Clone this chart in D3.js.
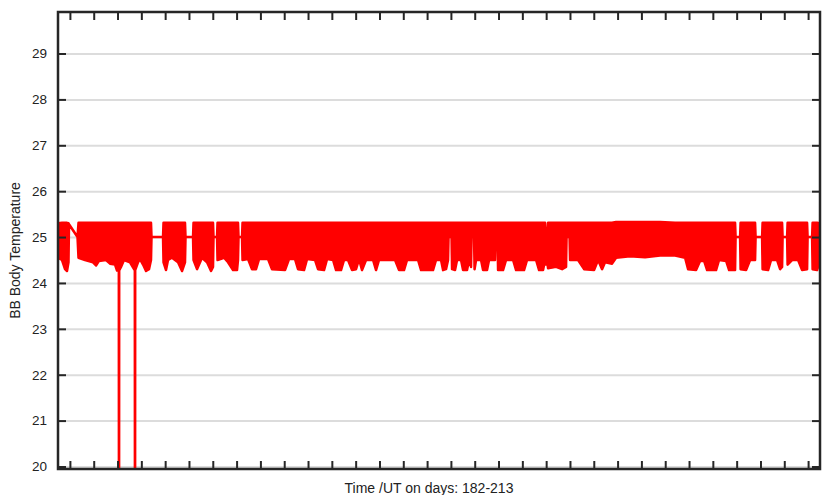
<!DOCTYPE html>
<html>
<head>
<meta charset="utf-8">
<script src="https://cdn.jsdelivr.net/npm/d3@7"></script>
<style>
  html, body { margin: 0; padding: 0; background: #fff; }
  svg { display: block; font-family: "Liberation Sans", Arial, Helvetica, sans-serif; }
</style>
</head>
<body>
<div id="chart"></div>
<script>
// ---------- data ----------
const xDomain = [181.5, 213.5];          // days
const yDomain = [19.945, 29.905];         // temperature
const xTickDays = d3.range(182, 214);     // one tick per day 182..213
const yTickLabels = [20, 21, 22, 23, 24, 25, 26, 27, 28, 29];
const xLabel = "Time /UT on days: 182-213";
const yLabel = "BB Body Temperature";

// dense series summarised by its envelope (max / min per breakpoint)
const tDay = [
  181.500,181.668,181.794,181.878,181.941,181.962,182.319,182.361,182.634,182.970,
  183.096,183.222,183.516,183.684,183.894,183.978,184.054,184.062,184.070,184.146,
  184.272,184.524,184.692,184.726,184.734,184.742,184.860,184.944,185.070,185.196,
  185.322,185.406,185.427,185.910,185.931,186.036,186.120,186.288,186.540,186.708,
  186.834,186.855,187.170,187.191,187.338,187.548,187.758,187.926,188.010,188.031,
  188.178,188.199,188.472,188.640,188.850,189.018,189.060,189.081,189.228,189.249,
  189.480,189.648,189.816,189.942,190.320,190.488,191.034,191.202,191.454,191.580,
  191.832,191.958,192.294,192.420,192.672,192.798,193.050,193.176,193.386,193.512,
  193.680,193.848,194.016,194.142,194.268,194.436,194.730,194.856,194.982,195.654,
  195.822,196.032,196.158,196.620,196.746,197.250,197.376,197.586,197.670,197.796,
  197.880,197.901,198.027,198.048,198.174,198.258,198.426,198.510,198.678,198.762,
  198.846,198.867,198.972,198.993,199.056,199.266,199.350,199.518,199.602,199.854,
  199.875,199.959,199.980,200.190,200.316,200.610,200.736,201.072,201.198,201.576,
  201.702,201.870,201.954,201.975,202.059,202.080,202.416,202.668,202.836,202.857,
  202.983,203.004,203.340,203.592,204.012,204.180,204.348,204.474,204.768,204.936,
  205.524,206.154,206.784,207.414,207.834,207.960,208.296,208.464,208.632,208.758,
  209.136,209.262,209.556,209.682,209.934,209.955,210.144,210.165,210.396,210.564,
  210.774,210.795,211.068,211.089,211.320,211.446,211.698,211.824,211.908,211.929,
  212.118,212.139,212.328,212.580,212.748,212.958,212.979,213.168,213.189,213.378,
  213.504
];
const tMax = [
  25.30,25.31,25.31,25.31,25.30,25.28,25.00,25.31,25.31,25.31,
  25.31,25.31,25.31,25.31,25.31,25.31,25.31,25.31,25.31,25.31,
  25.31,25.31,25.31,25.31,25.31,25.31,25.31,25.31,25.31,25.31,
  25.31,25.31,25.00,25.00,25.31,25.31,25.31,25.31,25.31,25.31,
  25.31,25.00,25.00,25.31,25.31,25.31,25.31,25.31,25.31,25.00,
  25.00,25.31,25.31,25.31,25.31,25.31,25.31,25.00,25.00,25.31,
  25.31,25.31,25.31,25.31,25.31,25.31,25.31,25.31,25.31,25.31,
  25.31,25.31,25.31,25.31,25.31,25.31,25.31,25.31,25.31,25.31,
  25.31,25.31,25.31,25.31,25.31,25.31,25.31,25.31,25.31,25.31,
  25.31,25.31,25.31,25.31,25.31,25.31,25.31,25.31,25.31,25.31,
  25.31,25.31,25.31,25.31,25.31,25.31,25.31,25.31,25.31,25.31,
  25.31,25.31,25.31,25.31,25.31,25.31,25.31,25.31,25.31,25.31,
  25.31,25.31,25.31,25.31,25.31,25.31,25.31,25.31,25.31,25.31,
  25.31,25.31,25.31,25.10,25.10,25.31,25.31,25.31,25.31,25.31,
  25.31,25.31,25.31,25.31,25.31,25.31,25.31,25.31,25.31,25.33,
  25.33,25.33,25.33,25.31,25.31,25.31,25.31,25.31,25.31,25.31,
  25.31,25.31,25.31,25.31,25.31,25.00,25.00,25.31,25.31,25.31,
  25.31,25.00,25.00,25.31,25.31,25.31,25.31,25.31,25.31,25.00,
  25.00,25.31,25.31,25.31,25.31,25.31,25.00,25.00,25.31,25.31,
  25.30
];
const tMin = [
  24.55,24.50,24.30,24.26,24.45,25.28,25.00,24.55,24.50,24.45,
  24.38,24.48,24.50,24.42,24.40,24.27,24.27,15.00,24.27,24.35,
  24.50,24.45,24.30,24.28,15.00,24.28,24.45,24.52,24.40,24.26,
  24.30,24.50,25.00,25.00,24.45,24.28,24.50,24.55,24.45,24.26,
  24.45,25.00,25.00,24.50,24.30,24.55,24.45,24.26,24.35,25.00,
  25.00,24.50,24.55,24.45,24.28,24.28,24.50,25.00,25.00,24.50,
  24.52,24.30,24.30,24.52,24.52,24.30,24.28,24.52,24.52,24.30,
  24.28,24.52,24.50,24.30,24.28,24.52,24.50,24.28,24.28,24.50,
  24.50,24.28,24.30,24.52,24.28,24.50,24.50,24.28,24.50,24.50,
  24.28,24.28,24.50,24.50,24.28,24.28,24.50,24.50,24.28,24.30,
  24.50,25.00,25.00,24.30,24.28,24.50,24.50,24.28,24.28,24.50,
  24.35,25.00,25.00,24.30,24.50,24.50,24.28,24.28,24.50,24.50,
  25.00,25.00,24.28,24.28,24.50,24.50,24.28,24.28,24.50,24.50,
  24.28,24.28,24.50,24.40,24.40,24.32,24.35,24.30,24.35,25.00,
  25.00,24.50,24.50,24.30,24.28,24.50,24.30,24.45,24.42,24.55,
  24.58,24.56,24.60,24.60,24.55,24.30,24.28,24.48,24.48,24.28,
  24.28,24.50,24.48,24.28,24.28,25.00,25.00,24.30,24.28,24.50,
  24.50,25.00,25.00,24.30,24.28,24.50,24.50,24.30,24.35,25.00,
  25.00,24.40,24.50,24.50,24.28,24.30,25.00,25.00,24.30,24.28,
  24.50
];

// ---------- layout ----------
const W = 826, H = 495;
const margin = { left: 58, right: 6, top: 12, bottom: 26 };
const iw = W - margin.left - margin.right;   // 762
const ih = H - margin.top - margin.bottom;   // 457

const svg = d3.select("#chart").append("svg")
  .attr("width", W).attr("height", H);

const x = d3.scaleLinear().domain(xDomain).range([0, iw]);
const y = d3.scaleLinear().domain(yDomain).range([ih, 0]);

const g = svg.append("g").attr("transform", `translate(${margin.left},${margin.top})`);

svg.append("defs").append("clipPath").attr("id", "plotclip")
  .append("rect").attr("x", 0).attr("y", 0).attr("width", iw).attr("height", ih);

// grid lines
const grid = g.append("g").attr("class", "grid")
  .call(d3.axisLeft(y).tickValues(yTickLabels).tickSize(-iw).tickFormat(""));
grid.select(".domain").remove();
grid.selectAll("line").attr("stroke", "#dcdcdc").attr("stroke-width", 2);

// data
const series = tDay.map((d, i) => ({ t: d, hi: tMax[i], lo: tMin[i] }));
const area = d3.area()
  .x(d => x(d.t))
  .y0(d => y(d.lo))
  .y1(d => y(d.hi));

g.append("g").attr("clip-path", "url(#plotclip)")
  .append("path")
  .datum(series)
  .attr("d", area)
  .attr("fill", "#ff0000")
  .attr("stroke", "#ff0000")
  .attr("stroke-width", 2.5)
  .attr("stroke-linejoin", "round");

// axes (ticks pointing inward)
const axisColor = "#262626";
function styleAxis(sel) {
  sel.select(".domain").remove();
  sel.selectAll(".tick line").attr("stroke", axisColor).attr("stroke-width", 2);
  sel.selectAll(".tick text").attr("fill", "#222").style("font-size", "13.5px");
}
g.append("g").call(d3.axisLeft(y).tickValues(yTickLabels).tickSize(-8).tickPadding(11).tickFormat(d3.format("d"))).call(styleAxis);
g.append("g").attr("transform", `translate(${iw},0)`)
  .call(d3.axisRight(y).tickValues(yTickLabels).tickSize(-8).tickFormat("")).call(styleAxis);
g.append("g").attr("transform", `translate(0,${ih})`)
  .call(d3.axisBottom(x).tickValues(xTickDays).tickSize(-8).tickFormat("")).call(styleAxis);
g.append("g")
  .call(d3.axisTop(x).tickValues(xTickDays).tickSize(-8).tickFormat("")).call(styleAxis);

// frame
g.append("rect").attr("x", 0).attr("y", 0).attr("width", iw).attr("height", ih)
  .attr("fill", "none").attr("stroke", axisColor).attr("stroke-width", 2.5);

// axis titles
svg.append("text")
  .attr("x", 429).attr("y", 493)
  .attr("text-anchor", "middle").attr("fill", "#222")
  .style("font-size", "14px").text(xLabel);
svg.append("text")
  .attr("transform", `translate(20,${margin.top + ih / 2 + 10}) rotate(-90)`)
  .attr("text-anchor", "middle").attr("fill", "#222")
  .style("font-size", "14px").text(yLabel);
</script>
</body>
</html>
